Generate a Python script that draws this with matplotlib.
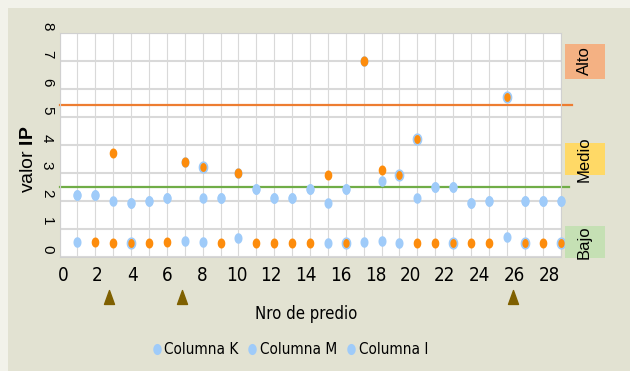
import numpy as np
import matplotlib
matplotlib.use('Agg')
import matplotlib.pyplot as plt
import matplotlib.transforms as mtransforms
from matplotlib.path import Path
from matplotlib.patches import Rectangle
from matplotlib.lines import Line2D
from matplotlib.font_manager import FontProperties

# ---- datos ----
predios = np.arange(1, 29)
col_k = [2.20, 2.20, 2.00, 1.90, 2.00, 2.11, 3.39, 2.11, 2.11, 3.00, 2.40, 2.11, 2.11, 2.40,
         1.90, 2.40, 7.00, 2.70, 2.91, 2.11, 2.50, 2.50, 1.90, 2.00, 5.70, 2.00, 2.00, 2.00]
col_m = [2.20, 2.20, 3.69, 1.90, 2.00, 2.11, 3.39, 3.20, 2.11, 3.00, 2.40, 2.11, 2.11, 2.40,
         2.91, 2.40, 7.00, 3.10, 2.91, 4.21, 2.50, 2.50, 1.90, 2.00, 5.70, 2.00, 2.00, 2.00]
col_i = [0.53, 0.53, 0.49, 0.47, 0.49, 0.52, 0.57, 0.53, 0.49, 0.66, 0.49, 0.49, 0.49, 0.49,
         0.49, 0.49, 0.52, 0.57, 0.49, 0.49, 0.49, 0.49, 0.49, 0.49, 0.69, 0.49, 0.49, 0.49]

# predios resaltados en naranja (por columna) y los que llevan borde celeste
naranja_k = [7, 10, 17, 19, 25]
naranja_m = [3, 8, 15, 18, 20]
naranja_i = [2, 3, 4, 5, 6, 9, 11, 12, 13, 14, 16, 20, 21, 22, 23, 24, 26, 27, 28]
borde_k = [19, 25]
borde_m = [8, 20]
borde_i = [4, 16, 22, 26, 28]

umbral_alto = 5.42
umbral_medio = 2.47
marcas = [2.68, 6.87, 25.9]          # triangulos bajo el eje
x_ticks = np.arange(0, 29, 2)
y_ticks = np.arange(0, 9)
series = ['Columna K', 'Columna M', 'Columna I']
niveles = ['Alto', 'Medio', 'Bajo']

# ---- estilo ----
celeste = '#9fcbf9'
naranja = '#fd8c0c'
fondo = '#e2e2d2'
plt.rcParams['font.family'] = ['Liberation Sans', 'DejaVu Sans']
plt.rcParams['mathtext.fontset'] = 'custom'
plt.rcParams['mathtext.rm'] = 'Liberation Sans'
plt.rcParams['mathtext.bf'] = 'Liberation Sans:bold'

# fuente angosta para el eje x y la leyenda
angosta = FontProperties(family='DejaVu Sans', stretch='condensed')

theta = np.linspace(0, 2 * np.pi, 60)
elipse = Path(np.column_stack([0.38 * np.cos(theta), 0.5 * np.sin(theta)]), closed=True)
triangulo = Path([(-0.36, -0.5), (0.36, -0.5), (0, 0.5), (0, 0)], closed=True)

fig = plt.figure(figsize=(6.3, 3.71), dpi=100, facecolor='#f2f2ea')
fig.patches.append(Rectangle((8 / 630, 0), 1, 1 - 8 / 371, transform=fig.transFigure,
                             facecolor=fondo, edgecolor='none', zorder=-10))

ax = fig.add_axes([59.5 / 630, (371 - 256.5) / 371, 501 / 630, 223.5 / 371])
ax.set_xlim(0, 28)
ax.set_ylim(0, 8)
ax.set_xticks(np.arange(0, 29))
ax.tick_params(axis='x', length=0, labelbottom=False)
ax.set_yticks(y_ticks)
ax.tick_params(axis='y', length=0, pad=4, labelsize=11)
ax.grid(axis='x', color='#d9d9d9', lw=0.8)
ax.grid(axis='y', color='#d9d9d9', lw=1.5)
ax.set_axisbelow(True)
for s in ax.spines.values():
    s.set_color('#d0d0d0')

offset = mtransforms.ScaledTranslation(0, 7 / 100, fig.dpi_scale_trans)
for lab in ax.get_yticklabels():
    lab.set_rotation(270)
    lab.set_va('center')
    lab.set_transform(lab.get_transform() + offset)

ax.set_ylabel(r'valor $\mathbf{IP}$', fontsize=14)
ax.yaxis.set_label_coords(-0.044, 0.436)

# lineas de umbral
ax.axhline(umbral_alto, xmin=0, xmax=(572 - 59.5) / 501, color='#ed7d31', lw=1.6, clip_on=False)
ax.axhline(umbral_medio, xmin=0, xmax=(569 - 59.5) / 501, color='#70ad47', lw=1.6, clip_on=False)

# puntos
ms = 7.6
datos = [(col_k, naranja_k, borde_k), (col_m, naranja_m, borde_m), (col_i, naranja_i, borde_i)]
for vals, nar, bor in datos:
    vals = np.array(vals)
    azul = ~np.isin(predios, nar)
    ax.plot(predios[azul], vals[azul], ls='none', marker=elipse, ms=ms,
            mfc=celeste, mec='none', zorder=3, clip_on=False)
for vals, nar, bor in datos:
    vals = np.array(vals)
    solo = np.isin(predios, nar) & ~np.isin(predios, bor)
    con_borde = np.isin(predios, bor)
    ax.plot(predios[solo], vals[solo], ls='none', marker=elipse, ms=ms * 0.95,
            mfc=naranja, mec='none', zorder=4, clip_on=False)
    ax.plot(predios[con_borde], vals[con_borde], ls='none', marker=elipse, ms=ms,
            mfc=naranja, mec=celeste, mew=1.2, zorder=4, clip_on=False)

# eje de etiquetas x
ax2 = ax.twiny()
ax2.set_xlim(-0.19, 28.66)
ax2.xaxis.set_ticks_position('bottom')
ax2.xaxis.set_label_position('bottom')
ax2.set_xticks(x_ticks)
ax2.tick_params(axis='x', length=0, pad=7)
for lab in ax2.get_xticklabels():
    lab.set_fontproperties(angosta)
    lab.set_fontsize(13.5)
for s in ax2.spines.values():
    s.set_visible(False)
ax2.set_xlabel('Nro de predio', fontproperties=angosta, fontsize=12)
ax2.xaxis.set_label_coords(0.492, -0.215)

tr = mtransforms.blended_transform_factory(ax2.transData, ax2.transAxes)
ax2.plot(marcas, [-0.181] * len(marcas), ls='none', marker=triangulo, ms=10,
         color='#7f6000', transform=tr, clip_on=False)

# cajas de nivel
cajas = {'Alto': (44, 79, '#f4b183'), 'Medio': (143, 175, '#ffd966'), 'Bajo': (226, 258, '#c5e0b4')}
centros = {'Alto': 61, 'Medio': 159, 'Bajo': 242}
for n in niveles:
    y0, y1, c = cajas[n]
    fig.patches.append(Rectangle((565 / 630, (371 - y1) / 371), 40 / 630, (y1 - y0) / 371,
                                 transform=fig.transFigure, facecolor=c, edgecolor='none'))
    fig.text(584 / 630, (371 - centros[n]) / 371, n, rotation=90, ha='center', va='center',
             fontsize=12)

# leyenda
handles = [Line2D([], [], ls='none', marker=elipse, ms=8, mfc=celeste, mec='none') for _ in series]
prop_ley = angosta.copy()
prop_ley.set_size(11)
fig.legend(handles, series, loc='center', bbox_to_anchor=(290 / 630, 21 / 371), ncol=3,
           frameon=False, handlelength=0.6, handletextpad=0.2, columnspacing=0.6,
           prop=prop_ley)

fig.savefig('out.png', dpi=100, facecolor=fig.get_facecolor())
